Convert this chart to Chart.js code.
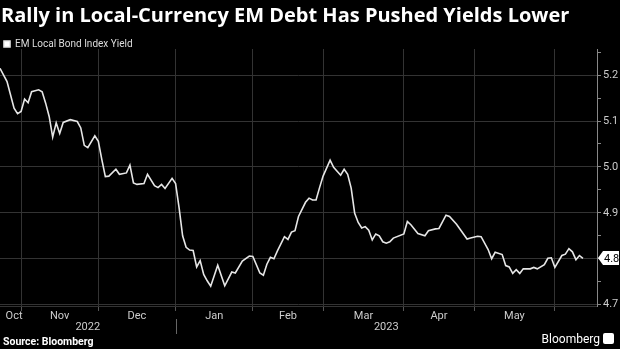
<!DOCTYPE html>
<html>
<head>
<meta charset="utf-8">
<script src="https://cdn.jsdelivr.net/npm/chart.js@4.4.0/dist/chart.umd.min.js"></script>
<style>
    body { margin: 0; background: #000; width: 620px; height: 349px; overflow: hidden; position: relative; }
    #title { position: absolute; left: 1px; top: 1px; color: #fff; font: bold 20px "Open Sans", sans-serif; white-space: nowrap; }
    #wrap { position: absolute; left: 0; top: 0; width: 620px; height: 349px; }
    #source { position: absolute; left: 3px; top: 335px; color: #fff; font: bold 10.5px Roboto, sans-serif; }
    #brand { position: absolute; right: 6px; top: 332px; color: #fff; font: 12px Roboto, sans-serif; }
    #brand span { display: inline-block; width: 11px; height: 11px; background: #fff; border-radius: 2px; vertical-align: -1px; margin-left: 3px; }
</style>
</head>
<body>
<div id="wrap"><canvas id="myChart" width="620" height="349"></canvas></div>
<div id="title">Rally in Local-Currency EM Debt Has Pushed Yields Lower</div>
<div id="source">Source: Bloomberg</div>
<div id="brand">Bloomberg<span></span></div>
<script>
// business days counted from Oct 24, 2022
const tradingDays = [
    0, 2, 4, 5, 6, 7, 8, 9, 11, 12, 13, 14, 15, 16, 17, 18, 20, 22, 23, 24,
    25, 27, 28, 29, 30, 31, 33, 34, 36, 37, 38, 39, 41, 42, 44, 45, 46, 47, 49, 50,
    51, 52, 53, 54, 55, 56, 57, 58, 59, 60, 62, 64, 66, 67, 69, 71, 72, 74, 75, 76,
    77, 78, 79, 81, 82, 83, 84, 85, 87, 88, 89, 90, 91, 92, 94, 95, 97, 98, 99, 100,
    101, 102, 103, 104, 105, 106, 107, 108, 109, 110, 111, 112, 115, 116, 117, 119, 121, 122, 124, 125,
    127, 128, 130, 133, 134, 136, 137, 139, 140, 141, 143, 144, 145, 146, 147, 148, 149, 151, 152, 153,
    155, 156, 157, 158, 160, 161, 162, 163, 164, 165, 166
];
const yields = [
    5.215, 5.186, 5.128, 5.116, 5.121, 5.148, 5.140, 5.164, 5.168, 5.164, 5.139, 5.110, 5.065, 5.096, 5.073, 5.097, 5.103, 5.099, 5.085, 5.047,
    5.042, 5.068, 5.056, 5.016, 4.979, 4.980, 4.995, 4.984, 4.987, 5.004, 4.965, 4.962, 4.964, 4.984, 4.959, 4.955, 4.962, 4.953, 4.975, 4.964,
    4.911, 4.850, 4.825, 4.819, 4.818, 4.782, 4.796, 4.766, 4.752, 4.740, 4.786, 4.741, 4.771, 4.769, 4.795, 4.806, 4.805, 4.769, 4.764, 4.788,
    4.803, 4.800, 4.817, 4.848, 4.842, 4.858, 4.861, 4.892, 4.923, 4.932, 4.928, 4.928, 4.955, 4.980, 5.015, 4.999, 4.982, 4.995, 4.984, 4.954,
    4.899, 4.879, 4.867, 4.870, 4.862, 4.841, 4.854, 4.850, 4.837, 4.834, 4.837, 4.845, 4.854, 4.881, 4.874, 4.855, 4.850, 4.861, 4.865, 4.866,
    4.895, 4.892, 4.875, 4.843, 4.845, 4.849, 4.848, 4.820, 4.800, 4.814, 4.809, 4.785, 4.782, 4.768, 4.776, 4.768, 4.778, 4.778, 4.781, 4.778,
    4.787, 4.801, 4.802, 4.781, 4.807, 4.810, 4.822, 4.815, 4.798, 4.807, 4.801
];

const monthStarts = [6, 28, 50, 72, 92, 115, 135, 158];
const monthLabels = ["Oct", "Nov", "Dec", "Jan", "Feb", "Mar", "Apr", "May"];
const monthLabelDays = [4, 17, 39, 61, 82, 103.5, 125, 146.5];
const yearLabels = ["2022", "2023"];
const yearLabelDays = [25, 110];
const yearBreak = 50;
const yTicks = [4.7, 4.75, 4.8, 4.85, 4.9, 4.95, 5.0, 5.05, 5.1, 5.15, 5.2, 5.25];

const isMajor = v => Math.round(v * 100) % 10 === 0;

const points = tradingDays.map((d, i) => ({ x: d, y: yields[i] }));

// let the plot area start right under the legend text
const legendSqueeze = {
    id: "legendSqueeze",
    beforeLayout(chart) {
        const legend = chart.legend;
        if (!legend || legend._squeezed) return;
        const fit = legend.fit;
        legend.fit = function () {
            fit.call(this);
            this.height -= 10;
        };
        legend._squeezed = true;
    }
};

const tagPlugin = {
    id: "tagPlugin",
    afterDraw(chart) {
        const ctx = chart.ctx;
        const ys = chart.scales.y;
        const last = yields[yields.length - 1];
        const py = Math.round(ys.getPixelForValue(last));
        const left = ys.left + 1;
        ctx.save();
        ctx.fillStyle = "#fff";
        ctx.beginPath();
        ctx.moveTo(left, py);
        ctx.lineTo(left + 5, py - 7);
        ctx.lineTo(chart.width - 1, py - 7);
        ctx.lineTo(chart.width - 1, py + 7);
        ctx.lineTo(left + 5, py + 7);
        ctx.closePath();
        ctx.fill();
        ctx.fillStyle = "#000";
        ctx.font = "11px Roboto";
        ctx.textBaseline = "middle";
        ctx.fillText(last.toFixed(1), left + 6, py + 1);

        // year divider
        const xs = chart.scales.xYears;
        const px = Math.round(xs.getPixelForValue(yearBreak)) + 0.5;
        ctx.strokeStyle = "#666";
        ctx.lineWidth = 1;
        ctx.beginPath();
        ctx.moveTo(px, xs.top - 3);
        ctx.lineTo(px, xs.bottom + 1);
        ctx.stroke();
        ctx.restore();
    }
};

const config = {
    type: "line",
    data: {
        datasets: [{
            label: "EM Local Bond Index Yield",
            data: points,
            borderColor: "#e6e6e6",
            backgroundColor: "#fff",
            borderWidth: 1.6,
            pointRadius: 0,
            tension: 0
        }]
    },
    options: {
        animation: false,
        responsive: false,
        layout: { padding: { top: 35, bottom: 16, left: 0, right: 0 } },
        plugins: {
            legend: {
                display: true,
                position: "top",
                align: "start",
                labels: {
                    boxWidth: 6,
                    boxHeight: 6,
                    padding: 4,
                    color: "#ddd",
                    font: { size: 10, family: "Roboto" }
                }
            },
            tooltip: { enabled: false }
        },
        scales: {
            x: {
                type: "linear",
                position: "bottom",
                min: 0,
                max: 170,
                afterBuildTicks: s => { s.ticks = monthStarts.map(v => ({ value: v })); },
                grid: { color: "#333", tickColor: "#555", tickLength: 5 },
                border: { display: true, color: "#333" },
                ticks: { display: false }
            },
            xMonths: {
                type: "linear",
                position: "bottom",
                min: 0,
                max: 170,
                afterBuildTicks: s => { s.ticks = monthLabelDays.map(v => ({ value: v })); },
                grid: { display: false, drawTicks: false },
                border: { display: false },
                ticks: {
                    autoSkip: false,
                    maxRotation: 0,
                    padding: 0,
                    color: "#ccc",
                    font: { size: 11, family: "Roboto", lineHeight: 1 },
                    callback: (v, i) => monthLabels[i]
                }
            },
            xYears: {
                type: "linear",
                position: "bottom",
                min: 0,
                max: 170,
                afterBuildTicks: s => { s.ticks = yearLabelDays.map(v => ({ value: v })); },
                grid: { display: false, drawTicks: false },
                border: { display: false },
                ticks: {
                    autoSkip: false,
                    maxRotation: 0,
                    padding: 0,
                    color: "#ccc",
                    font: { size: 11, family: "Roboto", lineHeight: 1 },
                    callback: (v, i) => yearLabels[i]
                }
            },
            y: {
                type: "linear",
                position: "right",
                min: 4.697,
                max: 5.257,
                afterBuildTicks: s => { s.ticks = yTicks.map(v => ({ value: v })); },
                afterFit: s => { s.width = 23; },
                grid: {
                    color: ctx => isMajor(ctx.tick.value) ? "#333" : "rgba(0,0,0,0)",
                    tickColor: "#888",
                    tickLength: 4
                },
                border: { display: true, color: "#888" },
                ticks: {
                    padding: 2,
                    color: "#ccc",
                    font: { size: 11, family: "Roboto" },
                    callback: v => isMajor(v) ? v.toFixed(1) : ""
                }
            }
        }
    },
    plugins: [legendSqueeze, tagPlugin]
};

var myChart = new Chart(document.getElementById("myChart"), config);
</script>
</body>
</html>
